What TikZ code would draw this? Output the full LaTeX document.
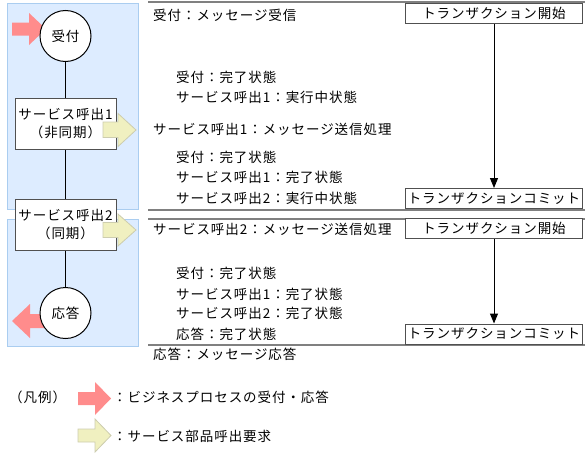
\documentclass[tikz,border=0pt]{standalone}
\usepackage{fontspec}
\setmainfont{Noto Sans CJK JP}
\newfontfamily\jpfam[LetterSpace=7]{Noto Sans CJK JP}
\usetikzlibrary{arrows.meta}
\definecolor{panelblue}{RGB}{221,236,255}
\definecolor{panelborder}{RGB}{170,205,240}
\definecolor{arrred}{RGB}{255,140,140}
\definecolor{arryel}{RGB}{240,240,192}
\definecolor{arryelb}{RGB}{205,205,175}
\definecolor{boxgray}{RGB}{80,80,80}
\definecolor{sepgray}{RGB}{128,128,128}
\begin{document}
\begin{tikzpicture}[x=1pt,y=-1pt,
  every node/.style={font={\jpfam\fontsize{13.5}{18}\selectfont}, inner sep=0pt},
  panel/.style={fill=panelblue, draw=panelborder, line width=1pt},
  proc/.style={draw=boxgray, fill=white, line width=1pt, minimum width=101, minimum height=51, align=center},
  circ/.style={circle, draw=black, fill=white, line width=1pt, minimum size=51},
  tbox/.style={draw=boxgray, fill=white, line width=1pt, minimum width=177, minimum height=20},
  lbl/.style={anchor=west},
  redarr/.style={fill=arrred, draw=none},
  yelarr/.style={fill=arryel, draw=arryelb, line width=0.8pt},
  sep/.style={draw=sepgray, line width=1.6pt},
  conn/.style={draw=black, line width=1pt},
  flow/.style={draw=black, line width=1pt, -{Triangle[length=10pt,width=8pt]}}
]
\useasboundingbox (0,0) rectangle (585,455);
% panels
\path[panel] (7.5,3.5) rectangle (138,209);
\path[panel] (7.5,219) rectangle (138,346);
% red arrows (behind circles)
\path[redarr] (12,22.5) -- (29,22.5) -- (29,13) -- (46,29) -- (29,45) -- (29,35.5) -- (12,35.5) -- cycle;
\path[redarr] (52,314) -- (30,314) -- (30,304) -- (12,321) -- (30,338) -- (30,328) -- (52,328) -- cycle;
% flow nodes
\node[circ] (uke) at (65.5,36) {受付};
\node[proc] (s1) at (65.5,124) {サービス呼出1\\（非同期）};
\node[proc] (s2) at (65.5,224.5) {サービス呼出2\\（同期）};
\node[circ] (ou) at (65.5,313) {応答};
\draw[conn] (uke) -- (s1);
\draw[conn] (s1) -- (s2);
\draw[conn] (s2) -- (ou);
% yellow arrows
\path[yelarr] (103,122) -- (118,122) -- (118,113.5) -- (136,130) -- (118,146.5) -- (118,137.5) -- (103,137.5) -- cycle;
\path[yelarr] (103,222.5) -- (118,222.5) -- (118,214) -- (136,230) -- (118,246) -- (118,237.5) -- (103,237.5) -- cycle;
% separators
\draw[sep] (148,2) -- (585,2);
\draw[sep] (148,210) -- (585,210);
\draw[sep] (148,219) -- (585,219);
\draw[sep] (148,345) -- (585,345);
% transaction boxes
\node[tbox] (tb1) at (494,13) {トランザクション開始};
\node[tbox] (tc1) at (494,198.5) {トランザクションコミット};
\node[tbox] (tb2) at (494,228.5) {トランザクション開始};
\node[tbox] (tc2) at (494,334) {トランザクションコミット};
\draw[flow] (tb1) -- (tc1);
\draw[flow] (tb2) -- (tc2);
% texts
\node[lbl] (a1) at (153,15) {受付：メッセージ受信};
\node[lbl] (a2) at (176,77) {受付：完了状態};
\node[lbl] (a3) at (176,97) {サービス呼出1：実行中状態};
\node[lbl] (a4) at (153,129) {サービス呼出1：メッセージ送信処理};
\node[lbl] (a5) at (176,157) {受付：完了状態};
\node[lbl] (a6) at (176,177) {サービス呼出1：完了状態};
\node[lbl] (a7) at (176,198) {サービス呼出2：実行中状態};
\node[lbl] (b1) at (153,229) {サービス呼出2：メッセージ送信処理};
\node[lbl] (b2) at (176,273) {受付：完了状態};
\node[lbl] (b3) at (176,294) {サービス呼出1：完了状態};
\node[lbl] (b4) at (176,313) {サービス呼出2：完了状態};
\node[lbl] (b5) at (176,334) {応答：完了状態};
\node[lbl] (b6) at (153,354) {応答：メッセージ応答};
% legend
\node[lbl] (lg) at (9,397) {（凡例）};
\path[redarr] (78,392) -- (95,392) -- (95,382) -- (111,398.5) -- (95,415) -- (95,405) -- (78,405) -- cycle;
\node[lbl] (lg1) at (113,397) {：ビジネスプロセスの受付・応答};
\path[yelarr] (78,429) -- (95,429) -- (95,419) -- (111,435.5) -- (95,452) -- (95,442) -- (78,442) -- cycle;
\node[lbl] (lg2) at (113,436) {：サービス部品呼出要求};
\end{tikzpicture}
\end{document}
